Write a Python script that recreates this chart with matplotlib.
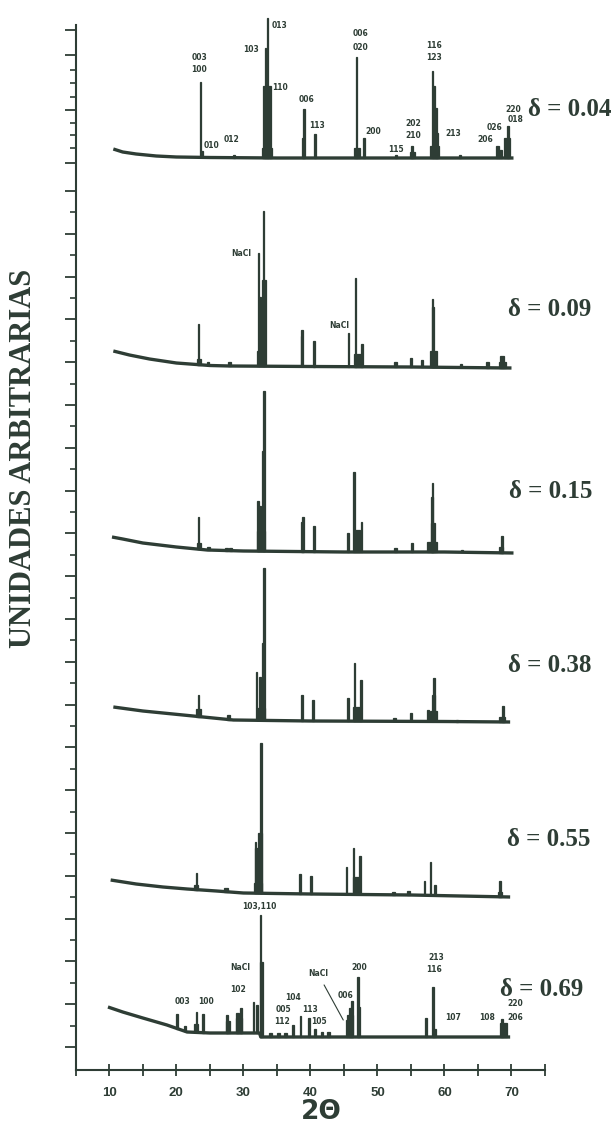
import numpy as np
import matplotlib.pyplot as plt
from matplotlib.ticker import FixedLocator, NullFormatter

# -----------------------------
# STYLE
# -----------------------------
INK = '#2e3d35'
SERIF = ['Liberation Serif', 'DejaVu Serif']

# -----------------------------
# DIFFRACTOGRAMS (2theta in degrees, intensity in arbitrary units,
# each pattern already shifted to its own level)
# -----------------------------
DELTAS = ["0.04", "0.09", "0.15", "0.38", "0.55", "0.69"]

# delta = 0.04
BG_X_004 = [10.6, 12.0, 14.0, 17.0, 20.0, 25.0, 35.0, 50.0, 70.3]
BG_Y_004 = [921, 918, 916, 914, 913, 912.5, 912, 912, 912]
PK_X_004 = [23.64, 23.85, 28.6, 33.55, 33.55, 33.24, 33.6, 38.9, 39.06, 40.7, 46.9, 46.95, 48.0,
            52.8, 55.2, 55.2, 58.2, 58.45, 58.7, 58.95, 58.5, 62.3, 67.9, 68.4, 69.5, 69.3]
PK_H_004 = [75, 6, 3, 10, 72, 110, 140, 20, 49, 24, 101, 10, 20,
            3, 12, 6, 87, 72, 50, 25, 12, 3, 12, 8, 32, 20]
PK_W_004 = [0.2, 0.4, 0.4, 1.5, 1.2, 0.15, 0.2, 0.4, 0.2, 0.35, 0.25, 0.8, 0.35,
            0.3, 0.25, 0.7, 0.25, 0.3, 0.3, 0.3, 1.4, 0.3, 0.4, 0.5, 0.3, 0.9]

# delta = 0.09
BG_X_009 = [10.6, 13.0, 16.0, 20.0, 25.0, 28.0, 40.0, 55.0, 70.0]
BG_Y_009 = [719, 715, 711, 707, 704.5, 704, 703.5, 703, 702]
PK_X_009 = [23.3, 23.45, 24.7, 27.9, 32.2, 32.5, 33.0, 33.1, 32.65, 38.65, 38.8, 40.5, 45.7,
            46.7, 47.7, 47.1, 52.7, 55.0, 56.7, 58.2, 58.35, 58.4, 62.4, 66.4, 68.6, 68.7]
PK_H_009 = [41, 6, 3, 4, 113, 69, 155, 86, 15, 30, 36, 26, 34,
            89, 23, 13, 5, 9, 7, 68, 60, 16, 3, 6, 12, 6]
PK_W_009 = [0.2, 0.6, 0.4, 0.4, 0.15, 0.3, 0.2, 0.55, 1.2, 0.2, 0.3, 0.25, 0.2,
            0.2, 0.3, 1.2, 0.4, 0.3, 0.3, 0.25, 0.3, 1.0, 0.3, 0.4, 0.5, 1.0]

# delta = 0.15
BG_X_015 = [10.4, 12.0, 15.0, 20.0, 24.6, 30.0, 45.0, 60.0, 70.3]
BG_Y_015 = [533, 531, 527, 523, 520, 519, 518, 518, 517]
PK_X_015 = [23.3, 23.4, 24.8, 27.5, 28.1, 32.2, 32.45, 33.1, 33.0, 32.6, 38.7, 38.85, 40.5, 45.6,
            46.5, 47.0, 47.6, 52.7, 55.2, 57.6, 58.2, 58.1, 58.3, 58.3, 62.6, 68.6, 68.5]
PK_H_015 = [32, 6, 3, 3, 3, 50, 45, 160, 100, 20, 30, 35, 26, 19,
            80, 22, 30, 4, 9, 10, 69, 55, 29, 10, 2, 17, 6]
PK_W_015 = [0.2, 0.5, 0.4, 0.4, 0.4, 0.25, 0.4, 0.2, 0.3, 1.2, 0.3, 0.25, 0.25, 0.2,
            0.2, 0.8, 0.25, 0.4, 0.25, 0.3, 0.2, 0.3, 0.6, 1.2, 0.3, 0.2, 0.6]

# delta = 0.38
BG_X_038 = [10.6, 15.0, 22.5, 28.5, 40.0, 60.0, 69.8]
BG_Y_038 = [363, 359, 354, 350, 349, 348.5, 348]
PK_X_038 = [23.3, 23.3, 27.8, 32.0, 32.5, 33.1, 32.95, 32.6, 38.8, 40.4, 45.6, 46.6,
            47.5, 47.0, 52.5, 55.0, 57.6, 58.4, 58.4, 58.4, 61.9, 68.7, 68.6]
PK_H_038 = [22, 8, 5, 48, 43, 152, 77, 12, 26, 21, 23, 58,
            41, 14, 3, 8, 11, 43, 26, 10, 2, 16, 5]
PK_W_038 = [0.2, 0.7, 0.5, 0.2, 0.4, 0.2, 0.4, 1.2, 0.3, 0.3, 0.25, 0.2,
            0.25, 1.2, 0.4, 0.3, 0.3, 0.25, 0.5, 1.0, 0.3, 0.3, 0.8]

# delta = 0.55
BG_X_055 = [10.2, 14.0, 18.0, 21.6, 26.0, 30.0, 40.0, 55.0, 69.8]
BG_Y_055 = [190, 186, 183, 181, 179, 177, 176, 175, 173]
PK_X_055 = [23.0, 23.0, 27.4, 31.8, 32.0, 32.6, 32.5, 32.2, 38.5, 40.1, 45.4, 46.4,
            47.4, 46.9, 52.4, 54.6, 57.0, 57.9, 58.6, 68.3, 68.3]
PK_H_055 = [17, 5, 4, 51, 45, 150, 60, 10, 20, 18, 27, 46,
            38, 17, 3, 4, 14, 33, 10, 16, 5]
PK_W_055 = [0.25, 0.6, 0.5, 0.2, 0.4, 0.25, 0.5, 1.2, 0.3, 0.3, 0.25, 0.2,
            0.25, 1.1, 0.4, 0.4, 0.25, 0.25, 0.25, 0.25, 0.7]

# delta = 0.69
BG_X_069 = [9.8, 12.0, 15.0, 18.6, 21.6, 25.0, 32.4, 32.6, 45.0, 69.8]
BG_Y_069 = [63, 58, 52, 45, 38, 37, 37, 33, 33, 33]
PK_X_069 = [20.1, 21.3, 23.0, 23.0, 24.0, 27.6, 27.7, 29.1, 29.6, 29.35, 31.5, 32.0, 32.6, 32.7,
            34.0, 35.2, 36.3, 37.4, 38.5, 39.8, 40.7, 41.7, 42.7, 45.4, 45.9, 46.2, 45.9,
            47.1, 47.2, 57.2, 58.3, 58.5, 68.6, 68.8]
PK_H_069 = [15, 5, 20, 8, 19, 18, 12, 20, 25, 15, 31, 28, 122, 75,
            4, 4, 4, 12, 21, 19, 8, 5, 5, 17, 29, 36, 22,
            60, 30, 19, 50, 8, 18, 14]
PK_W_069 = [0.25, 0.3, 0.25, 0.6, 0.25, 0.3, 0.5, 0.4, 0.35, 1.0, 0.25, 0.25, 0.2, 0.45,
            0.4, 0.5, 0.5, 0.25, 0.25, 0.25, 0.3, 0.3, 0.3, 0.25, 0.25, 0.25, 1.0,
            0.2, 0.3, 0.25, 0.2, 0.5, 0.25, 1.0]

# -----------------------------
# REFLECTION LABELS (text, 2theta, level)
# -----------------------------
HKL_004 = [("003", 23.4, 1013), ("100", 23.4, 1000), ("010", 25.3, 924), ("012", 28.3, 930),
           ("103", 31.15, 1021), ("013", 35.33, 1045), ("110", 35.48, 983), ("006", 39.36, 971),
           ("113", 41.0, 945), ("006", 47.42, 1036), ("020", 47.42, 1022), ("200", 49.36, 938),
           ("115", 52.79, 921), ("202", 55.33, 947), ("210", 55.33, 934), ("116", 58.46, 1025),
           ("123", 58.46, 1012), ("213", 61.3, 936), ("206", 66.07, 930), ("026", 67.42, 943),
           ("018", 70.6, 951), ("220", 70.3, 961)]
HKL_009 = [("NaCl", 29.69, 817), ("NaCl", 44.3, 744)]
HKL_069 = [("103,110", 32.37, 163), ("NaCl", 29.54, 103), ("102", 29.21, 81), ("003", 20.85, 68),
           ("100", 24.43, 68), ("104", 37.42, 72), ("005", 35.92, 60), ("112", 35.78, 49),
           ("113", 39.96, 61), ("105", 41.31, 49), ("006", 45.18, 75), ("200", 47.27, 103),
           ("213", 58.76, 113), ("116", 58.46, 100), ("107", 61.3, 53), ("108", 66.37, 53),
           ("220", 70.6, 67), ("206", 70.6, 53)]

# label anchor (2theta, level) for each delta caption
DELTA_POS = [(72.5, 960), (69.5, 761), (69.7, 579), (69.5, 405), (69.4, 231), (68.3, 81)]

patterns = [
    (BG_X_004, BG_Y_004, PK_X_004, PK_H_004, PK_W_004),
    (BG_X_009, BG_Y_009, PK_X_009, PK_H_009, PK_W_009),
    (BG_X_015, BG_Y_015, PK_X_015, PK_H_015, PK_W_015),
    (BG_X_038, BG_Y_038, PK_X_038, PK_H_038, PK_W_038),
    (BG_X_055, BG_Y_055, PK_X_055, PK_H_055, PK_W_055),
    (BG_X_069, BG_Y_069, PK_X_069, PK_H_069, PK_W_069),
]

# -----------------------------
# FIGURE
# -----------------------------
fig = plt.figure(figsize=(6.14, 11.24), dpi=100)
ax = fig.add_axes([75.8 / 614, 54 / 1124, 469.2 / 614, 1055 / 1124])

for bg_x, bg_y, pk_x, pk_h, pk_w in patterns:
    ax.plot(bg_x, bg_y, color=INK, lw=2.4, solid_capstyle='butt', zorder=2)
    base = np.interp(pk_x, bg_x, bg_y)
    ax.bar(pk_x, pk_h, width=pk_w, bottom=base, color=INK, edgecolor=INK,
           linewidth=0.9, zorder=3)

for labels in (HKL_004, HKL_009, HKL_069):
    for txt, x, y in labels:
        ax.text(x, y, txt, fontsize=5.5, fontweight='bold', color=INK,
                ha='center', va='center', family='DejaVu Sans')

# NaCl pointer in the bottom pattern
ax.annotate("NaCl", xy=(44.9, 50), xytext=(41.15, 96), fontsize=5.5, fontweight='bold',
            color=INK, ha='center', va='center', family='DejaVu Sans',
            arrowprops=dict(arrowstyle='-', color=INK, lw=0.8, shrinkA=3, shrinkB=0))

for d, (x, y) in zip(DELTAS, DELTA_POS):
    ax.text(x, y, "δ = " + d, fontsize=18, fontweight='bold', color=INK,
            ha='left', va='center', family=SERIF)

# -----------------------------
# AXES
# -----------------------------
ax.set_xlim(5, 75)
ax.set_ylim(0, 1055)

for side in ('top', 'right'):
    ax.spines[side].set_visible(False)
for side in ('left', 'bottom'):
    ax.spines[side].set_color(INK)
    ax.spines[side].set_linewidth(1.5)
ax.spines['left'].set_bounds(0, 1045)

ax.set_xticks([10, 20, 30, 40, 50, 60, 70])
ax.xaxis.set_minor_locator(FixedLocator([5, 15, 25, 35, 45, 55, 65, 75]))
ax.tick_params(axis='x', which='both', direction='inout', length=8, width=1.3,
               color=INK, pad=8)
for lab in ax.get_xticklabels():
    lab.set_family('Liberation Sans')
    lab.set_fontweight('bold')
    lab.set_fontsize(9.5)
    lab.set_color(INK)

major_y = list(23 + 42.8 * np.arange(21)) + [907, 960, 1015, 1040]
minor_y = list(44.4 + 42.8 * np.arange(20)) + [922, 935, 947, 973, 987, 1000]
ax.yaxis.set_major_locator(FixedLocator(major_y))
ax.yaxis.set_minor_locator(FixedLocator(minor_y))
ax.yaxis.set_major_formatter(NullFormatter())
ax.tick_params(axis='y', which='major', direction='out', length=8, width=1.3, color=INK)
ax.tick_params(axis='y', which='minor', direction='out', length=4.5, width=1.2, color=INK)

fig.text(24 / 614, 1 - 458 / 1124, "UNIDADES ARBITRARIAS", rotation=90, fontsize=22,
         fontweight='bold', color=INK, ha='center', va='center', family=SERIF)
fig.text(321 / 614, 1 - 1112 / 1124, "2Θ", fontsize=19, fontweight='bold', color=INK,
         ha='center', va='center', family='DejaVu Sans')

fig.savefig("out.png", dpi=100, facecolor='white')
